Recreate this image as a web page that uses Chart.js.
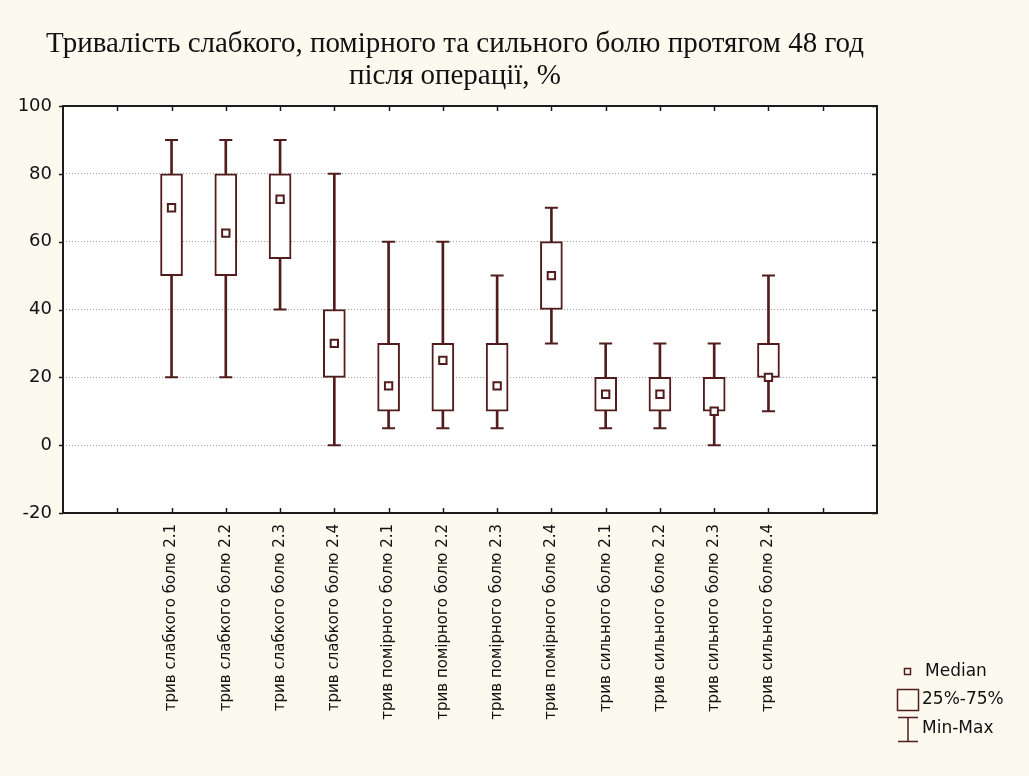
<!DOCTYPE html>
<html>
<head>
<meta charset="utf-8">
<script src="https://cdn.jsdelivr.net/npm/chart.js@4/dist/chart.umd.min.js"></script>
<style>
  html, body { margin: 0; padding: 0; background: #fcf9ef; }
  #wrap { width: 1029px; height: 776px; }
</style>
</head>
<body>
<div id="wrap"><canvas id="c" width="1029" height="776"></canvas></div>
<script>
// Box-plot statistics per group
const categories = [
  'трив слабкого болю 2.1', 'трив слабкого болю 2.2', 'трив слабкого болю 2.3', 'трив слабкого болю 2.4',
  'трив помірного болю 2.1', 'трив помірного болю 2.2', 'трив помірного болю 2.3', 'трив помірного болю 2.4',
  'трив сильного болю 2.1', 'трив сильного болю 2.2', 'трив сильного болю 2.3', 'трив сильного болю 2.4'
];
const minValues    = [20, 20, 40,  0,  5,  5,  5, 30,  5,  5,  0, 10];
const q1Values     = [50, 50, 55, 20, 10, 10, 10, 40, 10, 10, 10, 20];
const medianValues = [70, 62.5, 72.5, 30, 17.5, 25, 17.5, 50, 15, 15, 10, 20];
const q3Values     = [80, 80, 80, 40, 30, 30, 30, 60, 20, 20, 20, 30];
const maxValues    = [90, 90, 90, 80, 60, 60, 50, 70, 30, 30, 30, 50];
const yTicks = [-20, 0, 20, 40, 60, 80, 100];

const titleLines = ['Тривалість слабкого, помірного та сильного болю протягом 48 год', 'після операції, %'];
const legendLabels = ['Median', '25%-75%', 'Min-Max'];

// Two empty slots on each side of the groups along the category axis
const axisLabels = ['', ''].concat(categories, ['', '']);
const padded = (arr) => [null, null].concat(arr, [null, null]);

const INK = '#521c1c';
const FRAME = '#1c1c1c';

const bgPlugin = {
  id: 'bg',
  beforeDraw(chart) {
    const { ctx, chartArea: a } = chart;
    ctx.save();
    ctx.fillStyle = '#fcf9ef';
    ctx.fillRect(0, 0, chart.width, chart.height);
    ctx.fillStyle = '#ffffff';
    ctx.fillRect(a.left, a.top, a.right - a.left, a.bottom - a.top);
    ctx.restore();
  }
};

const framePlugin = {
  id: 'frame',
  afterDraw(chart) {
    const { ctx, chartArea: a, scales } = chart;
    ctx.save();
    ctx.strokeStyle = FRAME;
    ctx.lineWidth = 2;
    ctx.strokeRect(a.left, a.top, a.right - a.left, a.bottom - a.top);
    ctx.lineWidth = 1.5;
    ctx.beginPath();
    // category ticks, inward on bottom and top
    for (let i = 1; i < axisLabels.length - 1; i++) {
      const x = Math.round(scales.x.getPixelForValue(i)) + 0.5;
      ctx.moveTo(x, a.bottom); ctx.lineTo(x, a.bottom - 5);
      ctx.moveTo(x, a.top); ctx.lineTo(x, a.top + 5);
    }
    // value ticks: inward on the right, outward on the left
    yTicks.forEach(v => {
      const y = Math.round(scales.y.getPixelForValue(v)) + 0.5;
      ctx.moveTo(a.right, y); ctx.lineTo(a.right - 5, y);
      ctx.moveTo(a.left, y); ctx.lineTo(a.left - 4, y);
    });
    ctx.stroke();

    // title
    ctx.fillStyle = '#111';
    ctx.font = '29px "Liberation Serif", "DejaVu Serif", serif';
    ctx.textAlign = 'center';
    ctx.textBaseline = 'alphabetic';
    ctx.fillText(titleLines[0], 455, 52);
    ctx.fillText(titleLines[1], 455, 84);

    // legend
    ctx.font = '17px "DejaVu Sans", sans-serif';
    ctx.textAlign = 'left';
    ctx.textBaseline = 'middle';
    ctx.fillStyle = '#111';
    ctx.strokeStyle = INK;
    ctx.lineWidth = 1.5;
    ctx.strokeRect(904.5, 668.5, 6, 6);
    ctx.fillText(legendLabels[0], 925, 672);
    ctx.strokeRect(897.5, 689.5, 21, 21);
    ctx.fillText(legendLabels[1], 922, 700);
    ctx.beginPath();
    ctx.moveTo(898, 717.5); ctx.lineTo(918, 717.5);
    ctx.moveTo(908, 717.5); ctx.lineTo(908, 741.5);
    ctx.moveTo(898, 741.5); ctx.lineTo(918, 741.5);
    ctx.stroke();
    ctx.fillText(legendLabels[2], 922, 729);
    ctx.restore();
  }
};

const tickFontX = { family: '"DejaVu Sans", sans-serif', size: 15 };
const tickFontY = { family: '"DejaVu Sans", sans-serif', size: 18 };

new Chart(document.getElementById('c'), {
  type: 'bar',
  data: {
    labels: axisLabels,
    datasets: [
      { // whisker stem min..max
        type: 'bar', label: 'Min-Max', grouped: false, order: 4,
        data: padded(minValues.map((v, i) => [v, maxValues[i]])),
        backgroundColor: INK, borderWidth: 0, barThickness: 2
      },
      { // interquartile box
        type: 'bar', label: '25%-75%', grouped: false, order: 3,
        data: padded(q1Values.map((v, i) => [v, q3Values[i]])),
        backgroundColor: '#ffffff', borderColor: INK, borderWidth: 2,
        borderSkipped: false, barThickness: 22
      },
      { // lower caps
        type: 'line', label: 'Min', order: 2, showLine: false,
        data: padded(minValues),
        pointStyle: 'line', pointRadius: 6.5, borderColor: INK, pointBorderWidth: 2
      },
      { // upper caps
        type: 'line', label: 'Max', order: 2, showLine: false,
        data: padded(maxValues),
        pointStyle: 'line', pointRadius: 6.5, borderColor: INK, pointBorderWidth: 2
      },
      { // median markers
        type: 'line', label: 'Median', order: 0, showLine: false,
        data: padded(medianValues),
        pointStyle: 'rect', pointRadius: 5.2, pointBackgroundColor: '#ffffff',
        borderColor: INK, pointBorderColor: INK, pointBorderWidth: 2
      }
    ]
  },
  options: {
    responsive: false,
    animation: false,
    events: [],
    layout: { padding: { top: 106, right: 152, left: 0, bottom: 0 } },
    plugins: { legend: { display: false }, tooltip: { enabled: false }, title: { display: false } },
    scales: {
      x: {
        type: 'category',
        offset: false,
        grid: { display: false, drawTicks: false },
        border: { display: false },
        ticks: { autoSkip: false, minRotation: 90, maxRotation: 90, padding: 11, font: tickFontX, color: '#111' },
        afterFit(s) { s.height = 263; }
      },
      y: {
        min: -20, max: 100,
        grid: { color: '#a0a0a0', lineWidth: 1, drawTicks: false },
        border: { display: false, dash: [1, 2] },
        ticks: { stepSize: 20, padding: 11, font: tickFontY, color: '#111' },
        afterFit(s) { s.width = 63; }
      }
    }
  },
  plugins: [bgPlugin, framePlugin]
});
</script>
</body>
</html>
